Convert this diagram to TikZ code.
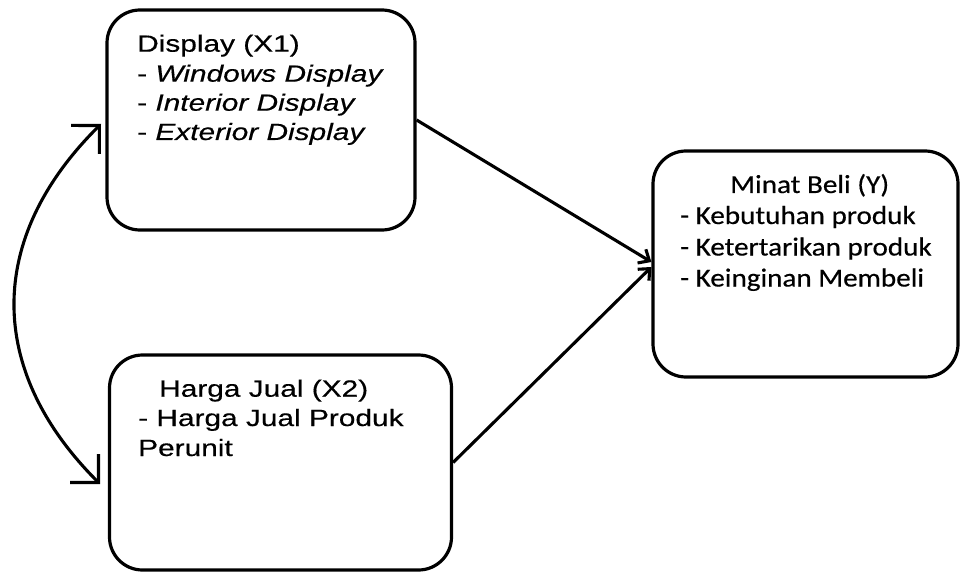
\documentclass[tikz,border=0pt]{standalone}
\usepackage{fontspec}
\setmainfont{Liberation Sans}
\newfontfamily\arialx[FakeStretch=1.27,FakeBold=0.4]{Liberation Sans}
\newfontfamily\calx[FakeStretch=1.12,FakeBold=0.4]{Carlito}
\usetikzlibrary{arrows.meta}
\begin{document}
\begin{tikzpicture}[x=1pt,y=-1pt,
  box/.style={draw, line width=3.2pt, rounded corners=33pt, inner sep=0pt},
  ltxt/.style={anchor=base west, inner sep=0pt, font=\arialx\fontsize{23.5pt}{29pt}\selectfont},
  rtxt/.style={anchor=base west, inner sep=0pt, font=\calx\fontsize{26pt}{31pt}\selectfont},
  link/.style={line width=3.1pt, -{Straight Barb[length=9pt,width=16pt,line width=3.1pt]}},
  biarrow/.style={line width=3.1pt, {Straight Barb[length=20pt,width=40pt,line width=3.1pt]}-{Straight Barb[length=20pt,width=40pt,line width=3.1pt]}}]
\useasboundingbox (0,0) rectangle (960,572);
\fill[white] (0,0) rectangle (960,572);

\node[box, minimum width=308pt, minimum height=220pt] (d) at (261,120) {};
\node[box, minimum width=305pt, minimum height=226pt] (m) at (805.5,264) {};
\node[box, minimum width=342pt, minimum height=215pt] (h) at (280.5,462.5) {};

\node[ltxt] (d1) at (137,51.7) {Display (X1)};
\node[ltxt] (d2) at (137,81.7) {- \textit{Windows Display}};
\node[ltxt] (d3) at (137,110.7) {- \textit{Interior Display}};
\node[ltxt] (d4) at (137,140) {- \textit{Exterior Display}};

\node[rtxt] (m1) at (730,193) {Minat Beli (Y)};
\node[rtxt] (m2) at (680,224) {- Kebutuhan produk};
\node[rtxt] (m3) at (680,255.5) {- Ketertarikan produk};
\node[rtxt] (m4) at (680,286.5) {- Keinginan Membeli};

\node[ltxt] (h1) at (159,396.7) {Harga Jual (X2)};
\node[ltxt] (h2) at (138,426) {- Harga Jual Produk};
\node[ltxt] (h3) at (138,456) {Perunit};

\draw[link] (d.east) -- ([yshift=2pt]m.west);
\draw[link] (h.east) -- ([yshift=-3pt]m.west);

\coordinate (ct) at (101,124);
\coordinate (cb) at (100,484);
\draw[biarrow] (ct) .. controls (-14,238) and (-14,370) .. (cb);
\end{tikzpicture}
\end{document}
